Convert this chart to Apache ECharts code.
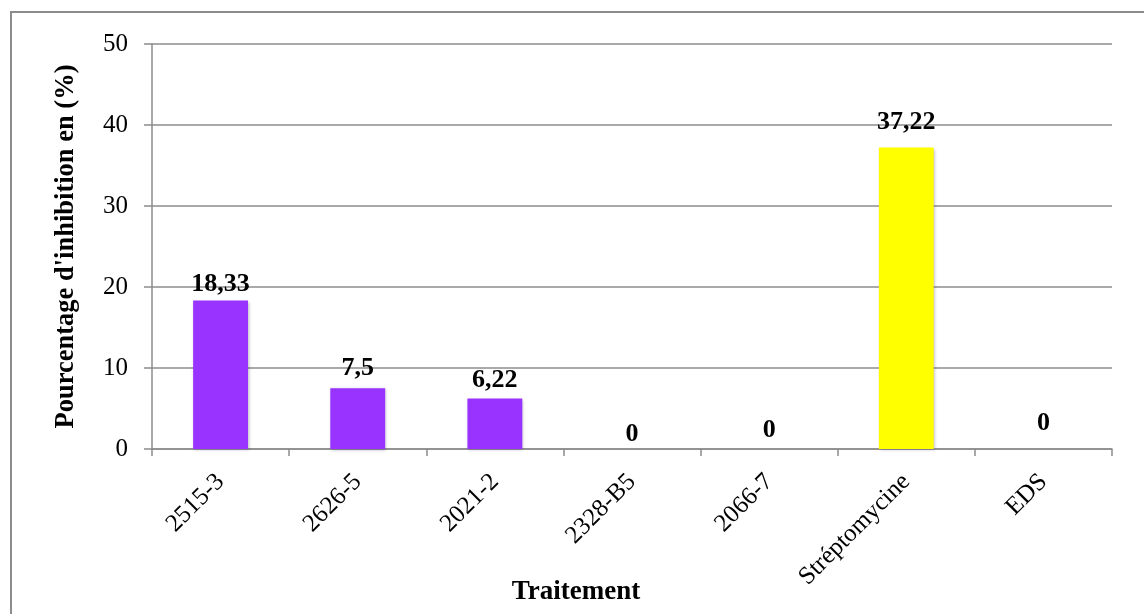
<!DOCTYPE html>
<html>
<head>
<meta charset="utf-8">
<script src="https://cdn.jsdelivr.net/npm/echarts@6/dist/echarts.min.js"></script>
<style>
  html, body { margin: 0; padding: 0; background: #ffffff; }
  #chart { width: 1144px; height: 614px; }
</style>
</head>
<body>
<div id="chart"></div>
<script>
// Treatments and their inhibition percentages
const categories = ['2515-3', '2626-5', '2021-2', '2328-B5', '2066-7', 'Stréptomycine', 'EDS'];
const inhibition = [18.33, 7.5, 6.22, 0, 0, 37.22, 0];
const yTicks = [0, 10, 20, 30, 40, 50];

const SERIF = "'Liberation Serif', 'Times New Roman', serif";
const GRAY = '#8c8c8c';
const PURPLE = '#9933ff';
const YELLOW = '#ffff00';

// reference (control) treatment drawn in yellow
const barColor = name => (name === 'Stréptomycine' ? YELLOW : PURPLE);

// hand-placed value labels: spacing above each bar, in pixels
const labelSpacing = {
  '2515-3': 3, '2626-5': 7, '2021-2': 5, '2328-B5': 2,
  '2066-7': 6, 'Stréptomycine': 12, 'EDS': 13
};

const chart = echarts.init(document.getElementById('chart'), null, { renderer: 'canvas' });

chart.setOption({
  backgroundColor: '#ffffff',
  animation: false,
  graphic: [{
    type: 'rect',
    shape: { x: 11, y: 12, width: 1160, height: 640 },
    style: { fill: 'none', stroke: GRAY, lineWidth: 2 },
    silent: true
  }],
  grid: {
    left: 152, right: 32, top: 44, bottom: 165,
    containLabel: false,
    outerBoundsMode: 'none'
  },
  xAxis: {
    type: 'category',
    data: categories,
    name: 'Traitement',
    nameLocation: 'middle',
    nameMoveOverlap: false,
    nameGap: 130,
    nameTextStyle: {
      fontFamily: SERIF, fontSize: 27, fontWeight: 'bold', color: '#000',
      padding: [0, 112, 0, 0]
    },
    axisLine: { show: true, lineStyle: { color: GRAY, width: 1.5 } },
    axisTick: { show: true, length: 7, alignWithLabel: false, lineStyle: { color: GRAY, width: 1.5 } },
    axisLabel: {
      rotate: 45, interval: 0, margin: 29,
      fontFamily: SERIF, fontSize: 25, color: '#000'
    },
    splitLine: { show: false }
  },
  yAxis: {
    type: 'value',
    min: yTicks[0],
    max: yTicks[yTicks.length - 1],
    interval: yTicks[1] - yTicks[0],
    name: "Pourcentage d'inhibition en (%)",
    nameLocation: 'middle',
    nameMoveOverlap: false,
    nameGap: 72,
    nameTextStyle: { fontFamily: SERIF, fontSize: 26.5, fontWeight: 'bold', color: '#000' },
    axisLine: { show: true, lineStyle: { color: GRAY, width: 1.5 } },
    axisTick: { show: true, length: 8, lineStyle: { color: GRAY, width: 1.5 } },
    axisLabel: { margin: 24, fontFamily: SERIF, fontSize: 25, color: '#000' },
    splitLine: { show: true, lineStyle: { color: GRAY, width: 1.5 } }
  },
  series: [{
    type: 'bar',
    barWidth: '40%',
    data: categories.map((name, i) => ({
      value: inhibition[i],
      itemStyle: {
        color: barColor(name),
        shadowColor: 'rgba(60, 40, 90, 0.35)',
        shadowBlur: 3,
        shadowOffsetX: 1,
        shadowOffsetY: 1
      },
      label: { distance: labelSpacing[name] }
    })),
    label: {
      show: true,
      position: 'top',
      fontFamily: SERIF,
      fontSize: 26,
      fontWeight: 'bold',
      color: '#000',
      formatter: p => String(p.value).replace('.', ',')
    }
  }]
});
</script>
</body>
</html>
